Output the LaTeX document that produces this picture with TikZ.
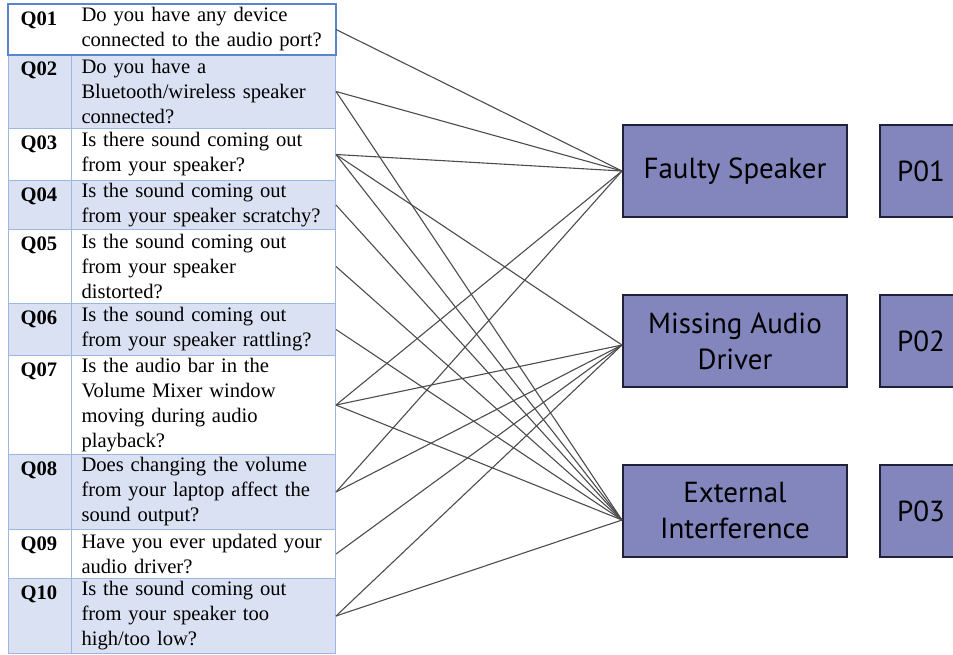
\documentclass[tikz,border=0pt]{standalone}
\usepackage{fontspec}
\setmainfont{Liberation Serif}
\newfontfamily\boxfont{PT Sans}
\usepackage{tikz}
\usetikzlibrary{positioning}

\definecolor{rowshade}{HTML}{D9E1F2}
\definecolor{rowline}{HTML}{9FB6E0}
\definecolor{selline}{HTML}{5A84CC}
\definecolor{boxfill}{HTML}{8385BD}
\definecolor{boxline}{HTML}{20203A}

\tikzset{
  qcell/.style={anchor=north west, text width=122pt, align=left, inner xsep=5pt, inner ysep=0pt, line width=0.5pt, font=\fontsize{10.3}{12.5}\selectfont},
  idcell/.style={anchor=north west, text width=19.5pt, align=left, inner xsep=6pt, inner ysep=0pt, text height=10.5pt, line width=0.5pt, font=\fontsize{10.3}{12.5}\selectfont},
  cause/.style={minimum width=112pt, minimum height=46pt, fill=boxfill, draw=boxline, line width=1pt, align=center, font=\boxfont\fontsize{14.5}{18}\selectfont},
  code/.style={cause, minimum width=41pt},
  link/.style={line width=0.55pt, color=black!70},
  selframe/.style={draw=selline, line width=0.6pt}
}

\begin{document}
\begin{tikzpicture}[x=0.5pt, y=-0.5pt]
\clip (0,0) rectangle (953,654);
%%%%% Question table %%%%%
\foreach \q/\top/\h/\shade/\edge/\txt in {
  Q01/4/50/white/none/{Do you have any device\\connected to the audio port?},
  Q02/54/74/rowshade/rowline/{Do you have a\\Bluetooth/wireless speaker\\connected?},
  Q03/128/52/white/rowline/{Is there sound coming out\\from your speaker?},
  Q04/180/49/rowshade/rowline/{Is the sound coming out\\from your speaker scratchy?},
  Q05/229/74/white/rowline/{Is the sound coming out\\from your speaker\\distorted?},
  Q06/303/52/rowshade/rowline/{Is the sound coming out\\from your speaker rattling?},
  Q07/355/99/white/rowline/{Is the audio bar in the\\Volume Mixer window\\moving during audio\\playback?},
  Q08/454/75/rowshade/rowline/{Does changing the volume\\from your laptop affect the\\sound output?},
  Q09/529/49/white/rowline/{Have you ever updated your\\audio driver?},
  Q10/578/75/rowshade/rowline/{Is the sound coming out\\from your speaker too\\high/too low?}}{
  \pgfmathsetmacro\rowht{\h*0.5}
  \pgfmathsetmacro\iddp{\h*0.5-10.5}
  \node[idcell, fill=\shade, draw=\edge, text depth=\iddp pt] (\q-id) at (8,\top) {\textbf{\q}};
  \node[qcell, fill=\shade, draw=\edge, minimum height=\rowht pt] (\q) at (71,\top) {\txt};
}
\draw[selframe] (Q01-id.north west) rectangle (Q01.south east);

%%%%% Problems %%%%%
\node[cause] (fs) at (735,171) {Faulty Speaker};
\node[cause, below=38pt of fs] (mad) {Missing Audio\\Driver};
\node[cause, below=38pt of mad] (ext) {External\\Interference};
\node[code, right=15.5pt of fs] (p1) {P01};
\node[code, right=15.5pt of mad] (p2) {P02};
\node[code, right=15.5pt of ext] (p3) {P03};

%%%%% Links %%%%%
\foreach \q in {Q01,Q02,Q03,Q07,Q08}{
\draw[link] (\q.east) -- (fs.west);
}
\foreach \q in {Q03,Q07,Q08,Q09,Q10}{
\draw[link] (\q.east) -- ([yshift=-2pt]mad.west);
}
\foreach \q in {Q02,Q03,Q04,Q05,Q06,Q07,Q10}{
\draw[link] (\q.east) -- ([yshift=-4.5pt]ext.west);
}
\end{tikzpicture}
\end{document}
